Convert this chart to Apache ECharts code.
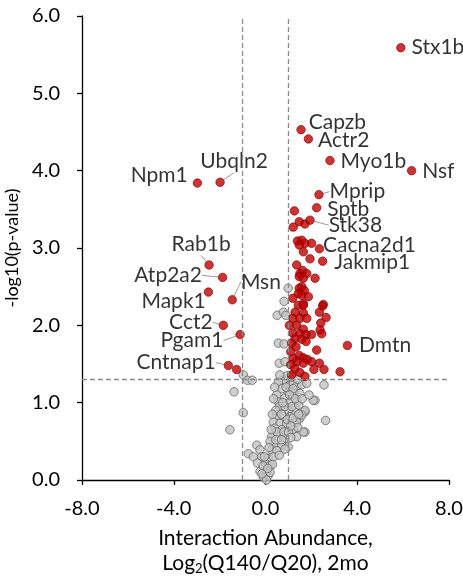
<!DOCTYPE html>
<html><head><meta charset="utf-8">
<script src="https://cdn.jsdelivr.net/npm/echarts@6/dist/echarts.min.js"></script>
<style>html,body{margin:0;padding:0;background:#fff}#c{width:463px;height:580px}</style>
</head><body><div id="c"></div>
<script>
// ---------------- data ----------------
const xTicks = [-8, -4, 0, 4, 8];
const yTicks = [0, 1, 2, 3, 4, 5, 6];
const foldCutoffs = [-1, 1];
const pCutoff = 1.3;

const geneNames = ['Stx1b','Capzb','Actr2','Myo1b','Nsf','Mprip','Sptb','Stk38','Cacna2d1','Jakmip1','Dmtn',
  'Npm1','Ubqln2','Rab1b','Atp2a2','Mapk1','Msn','Cct2','Pgam1','Cntnap1'];
const geneX = [5.90,1.55,1.87,2.81,6.37,2.33,2.23,1.94,2.35,2.49,3.57,
  -2.97,-1.98,-2.46,-1.87,-2.49,-1.45,-1.84,-1.11,-1.62];
const geneY = [5.59,4.53,4.41,4.13,4.00,3.69,3.52,3.36,2.99,2.83,1.74,
  3.84,3.85,2.78,2.62,2.43,2.33,2.00,1.88,1.48];

const sigX = [1.26,1.47,1.21,1.72,1.39,1.58,1.72,1.47,2.01,1.65,1.94,1.36,1.62,1.50,1.80,1.47,1.65,2.16,
  1.58,1.47,1.69,1.43,1.58,1.87,1.19,1.65,2.52,1.43,1.65,2.49,1.29,1.65,2.35,2.64,1.19,1.50,1.80,2.41,
  1.04,1.36,1.65,2.38,1.19,1.50,1.77,2.01,2.45,1.29,1.58,1.77,1.14,1.33,2.23,1.10,1.47,1.21,1.65,1.82,
  1.36,1.65,2.01,2.35,1.10,1.29,2.11,2.55,1.50,3.25,1.14,1.72,-1.26];
const sigY = [3.48,3.34,3.27,3.31,3.09,3.10,3.06,3.04,3.06,2.95,2.86,2.78,2.71,2.67,2.67,2.63,2.61,2.61,
  2.50,2.48,2.45,2.41,2.39,2.37,2.35,2.28,2.27,2.26,2.26,2.25,2.17,2.16,2.17,2.10,2.09,2.09,2.09,2.03,
  2.00,2.00,1.95,1.94,1.90,1.89,1.88,1.88,1.89,1.83,1.82,1.79,1.77,1.72,1.68,1.66,1.61,1.57,1.58,1.56,
  1.53,1.51,1.53,1.51,1.49,1.44,1.43,1.43,1.39,1.40,1.36,1.34,1.43];

const nsX = [0.99,0.81,0.51,0.78,0.89,0.56,0.81,0.60,0.85,
  -0.97,-0.78,-0.58,-1.37,-0.97,-1.55,
  2.55,2.16,2.62,1.72,1.50,1.72,
  0.75,0.85,1.07,1.21,1.36,1.58,1.80,0.99,1.26,1.50,2.08,0.85,1.07,1.36,0.71,0.99,1.29,1.72,0.49,0.78,
  1.07,1.58,0.34,0.63,0.92,1.36,0.41,0.71,1.21,1.65,0.27,0.56,0.85,1.36,0.41,0.71,0.99,0.27,-0.38,-0.24,
  -0.75,-0.53,-0.17,0.12,-0.02,0.20,-0.24,0.05,-0.10,0.12,0.05,0.56,0.71,0.49,0.56,
  0.95,1.15,1.40,0.62,0.90,1.20,0.60,0.85,1.15,1.45,0.45,0.70,0.95,1.20,1.45,0.50,0.80,1.00,1.40,0.20,
  0.45,0.70,1.10,0.15,0.50,0.85,0.35,0.60,-0.35,-0.10,0.30,-0.15,0.20,0.10,-0.05,0.40,0.35,1.05,1.30,
  1.10,0.25,0.30,1.60,1.90,0.75];
const nsY = [2.48,2.31,2.13,2.17,2.13,1.77,1.76,1.51,1.53,
  1.36,1.29,1.29,1.14,0.87,0.65,
  1.23,1.03,0.77,0.88,0.80,0.62,
  1.29,1.29,1.23,1.25,1.21,1.23,1.25,1.14,1.12,1.12,1.03,1.06,1.01,1.01,0.93,0.90,0.93,0.90,0.84,0.82,
  0.82,0.84,0.75,0.73,0.73,0.75,0.67,0.65,0.65,0.62,0.56,0.56,0.54,0.56,0.47,0.45,0.43,0.39,0.45,0.39,
  0.34,0.30,0.30,0.28,0.22,0.19,0.11,0.11,0.04,0.06,0.00,1.27,1.18,1.10,1.01,
  1.35,1.33,1.30,1.36,1.20,1.18,0.95,0.95,0.95,0.97,0.90,0.85,0.78,0.80,0.85,0.62,0.62,0.62,0.68,0.50,
  0.52,0.52,0.55,0.42,0.38,0.40,0.30,0.32,0.22,0.18,0.20,0.08,0.10,0.15,0.30,1.20,1.05,1.10,1.05,
  0.70,0.65,0.85,1.05,1.10,1.00];

// ---------------- label placement (style) ----------------
const labelPlacement = {
  Stx1b:{pos:'right',dx:1,dy:0}, Capzb:{pos:'right',dx:-2,dy:-7}, Actr2:{pos:'right',dx:0,dy:1},
  Myo1b:{pos:'right',dx:1,dy:1}, Nsf:{pos:'right',dx:1,dy:1}, Mprip:{pos:'right',dx:1,dy:-3,line:true},
  Sptb:{pos:'right',dx:1,dy:1}, Stk38:{pos:'right',dx:9,dy:5,line:true}, Cacna2d1:{pos:'right',dx:-6,dy:-4},
  Jakmip1:{pos:'right',dx:2,dy:1}, Dmtn:{pos:'right',dx:2,dy:0},
  Npm1:{pos:'left',dx:0,dy:-8}, Ubqln2:{pos:'top',dx:14,dy:0,line:true}, Rab1b:{pos:'top',dx:-8,dy:0,line:true},
  Atp2a2:{pos:'left',dx:-11,dy:-2,line:true}, Mapk1:{pos:'left',dx:7,dy:9}, Msn:{pos:'right',dx:-1,dy:-18,line:true},
  Cct2:{pos:'left',dx:-1,dy:-3,line:true}, Pgam1:{pos:'left',dx:-7,dy:6,line:true}, Cntnap1:{pos:'left',dx:-3,dy:-3,line:true}
};

const FONT = 'Lato';
const TXT = '#000';
const redStyle = {color:'#C00000', borderColor:'#7A0000', borderWidth:0.8};
const greyStyle = {color:'#C3C3C3', borderColor:'#666666', borderWidth:1};

const zip = (xs, ys) => xs.map((x, i) => [x, ys[i]]);
const geneItems = geneNames.map((n, i) => ({
  name: n, value: [geneX[i], geneY[i]],
  label: {position: labelPlacement[n].pos},
  labelLine: {show: !!labelPlacement[n].line}
}));

const chart = echarts.init(document.getElementById('c'), null, {renderer:'canvas'});
chart.setOption({
  animation:false,
  backgroundColor:'#fff',
  grid:{left:82, right:14, top:16, bottom:100, containLabel:false, outerBoundsMode:'none'},
  xAxis:{
    type:'value', min:xTicks[0], max:xTicks[xTicks.length-1], interval:4,
    name:'{a|Interaction Abundance,}\n{a|Log}{s|2}{a|(Q140/Q20), 2mo}',
    nameLocation:'middle', nameGap:46,
    nameTextStyle:{fontFamily:FONT, color:TXT, rich:{
      a:{fontFamily:FONT, fontSize:21, lineHeight:25, color:TXT},
      s:{fontFamily:FONT, fontSize:13, lineHeight:25, color:TXT, padding:[10,0,0,0]}
    }},
    axisLine:{onZero:false, lineStyle:{color:'#000', width:1.3}},
    axisTick:{length:5, lineStyle:{color:'#000', width:1.3}},
    splitLine:{show:false},
    axisLabel:{fontFamily:FONT, fontSize:20, color:TXT, margin:19, formatter:v=>v.toFixed(1)}
  },
  yAxis:{
    type:'value', min:yTicks[0], max:yTicks[yTicks.length-1], interval:1,
    name:'-log10(p-value)', nameLocation:'middle', nameGap:48,
    nameTextStyle:{fontFamily:FONT, fontSize:18, color:TXT},
    axisLine:{show:true, onZero:false, lineStyle:{color:'#000', width:1.3}},
    axisTick:{show:true, length:5, lineStyle:{color:'#000', width:1.3}},
    splitLine:{show:false},
    axisLabel:{fontFamily:FONT, fontSize:20, color:TXT, margin:22, formatter:v=>v.toFixed(1)}
  },
  series:[
    {type:'scatter', data:[], z:1, silent:true,
     markLine:{silent:true, symbol:['none','none'], label:{show:false},
       lineStyle:{type:[5,3], color:'#8A8A8A', width:1.3},
       data: foldCutoffs.map(v=>({xAxis:v})).concat([{yAxis:pCutoff}])}},
    {type:'scatter', data:zip(nsX, nsY), symbolSize:8.5, itemStyle:greyStyle, z:2},
    {type:'scatter', data:zip(sigX, sigY), symbolSize:8.5, itemStyle:redStyle, z:3},
    {type:'scatter', data:geneItems, symbolSize:8.5, itemStyle:redStyle, z:4,
     label:{show:true, formatter:'{b}', fontFamily:FONT, fontSize:21, lineHeight:22, color:TXT, distance:5},
     labelLine:{show:false, lineStyle:{color:'#9A9A9A', width:1}},
     labelLayout:(p)=>{ const pl = labelPlacement[geneNames[p.dataIndex]]; return {dx:pl.dx, dy:pl.dy}; }
    }
  ]
});
</script>
</body></html>
